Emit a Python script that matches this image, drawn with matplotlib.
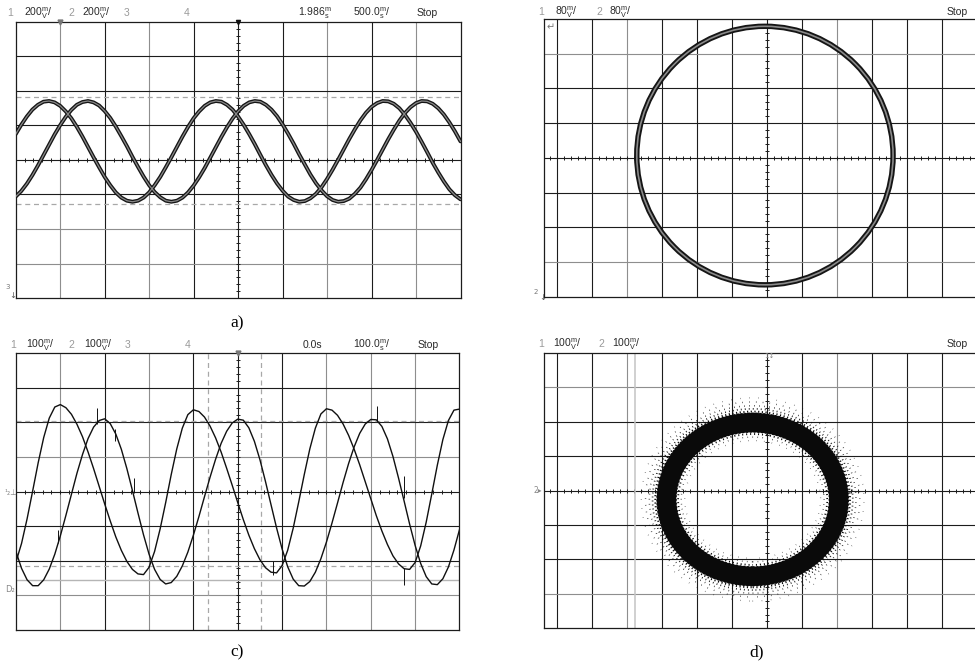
import numpy as np
import matplotlib.pyplot as plt
from matplotlib.patches import Ellipse

# ---- data read off the four scope screens (units = divisions, 0 at screen centre) ----
# time screens a) and c): one sample every 0.125 div across the 10 div
t_div = np.linspace(0, 10, 81)

a_ch1 = [0.75, 1.02, 1.26, 1.46, 1.60, 1.69, 1.71, 1.67, 1.57, 1.41,
         1.21, 0.96, 0.68, 0.38, 0.08, -0.21, -0.49, -0.73, -0.94, -1.09,
         -1.18, -1.21, -1.18, -1.09, -0.94, -0.73, -0.49, -0.21, 0.08, 0.38,
         0.68, 0.96, 1.21, 1.41, 1.57, 1.67, 1.71, 1.69, 1.60, 1.46,
         1.26, 1.02, 0.75, 0.46, 0.15, -0.15, -0.43, -0.68, -0.89, -1.06,
         -1.16, -1.21, -1.19, -1.11, -0.98, -0.79, -0.55, -0.28, 0.01, 0.31,
         0.61, 0.89, 1.15, 1.37, 1.54, 1.65, 1.71, 1.70, 1.63, 1.50,
         1.31, 1.08, 0.82, 0.53, 0.23, -0.08, -0.36, -0.62, -0.85, -1.02,
         -1.14]
a_ch2 = [-1.06, -0.90, -0.69, -0.44, -0.16, 0.14, 0.44, 0.74, 1.01, 1.25,
         1.45, 1.60, 1.68, 1.71, 1.67, 1.58, 1.42, 1.22, 0.97, 0.69,
         0.40, 0.09, -0.20, -0.48, -0.73, -0.93, -1.08, -1.18, -1.21, -1.18,
         -1.09, -0.94, -0.74, -0.50, -0.23, 0.07, 0.37, 0.67, 0.95, 1.20,
         1.41, 1.57, 1.67, 1.71, 1.69, 1.60, 1.46, 1.27, 1.03, 0.76,
         0.47, 0.16, -0.13, -0.42, -0.67, -0.88, -1.05, -1.16, -1.21, -1.19,
         -1.12, -0.98, -0.80, -0.56, -0.29, 0.00, 0.30, 0.60, 0.88, 1.14,
         1.36, 1.53, 1.65, 1.71, 1.70, 1.63, 1.50, 1.32, 1.09, 0.83,
         0.54]
a_cursor_y = [1.83, -1.28]

c_ch1 = [-2.03, -1.50, -0.79, 0.01, 0.83, 1.56, 2.12, 2.44, 2.51, 2.42,
         2.23, 1.94, 1.58, 1.14, 0.66, 0.15, -0.36, -0.85, -1.31, -1.70,
         -2.02, -2.25, -2.38, -2.40, -2.19, -1.73, -1.08, -0.32, 0.49, 1.23,
         1.83, 2.22, 2.36, 2.31, 2.15, 1.89, 1.55, 1.14, 0.67, 0.18,
         -0.32, -0.81, -1.26, -1.65, -1.97, -2.20, -2.33, -2.35, -2.14, -1.70,
         -1.06, -0.30, 0.49, 1.23, 1.83, 2.24, 2.39, 2.35, 2.20, 1.95,
         1.62, 1.22, 0.77, 0.28, -0.21, -0.70, -1.14, -1.53, -1.86, -2.09,
         -2.23, -2.25, -2.05, -1.57, -0.88, -0.07, 0.76, 1.50, 2.05, 2.35,
         2.38]
c_ch2 = [-1.74, -2.22, -2.55, -2.72, -2.72, -2.55, -2.24, -1.81, -1.28, -0.69,
         -0.08, 0.53, 1.07, 1.53, 1.86, 2.05, 2.10, 1.96, 1.66, 1.22,
         0.66, 0.03, -0.62, -1.25, -1.81, -2.25, -2.54, -2.67, -2.63, -2.45,
         -2.15, -1.75, -1.26, -0.72, -0.15, 0.41, 0.93, 1.39, 1.74, 1.98,
         2.09, 2.06, 1.84, 1.45, 0.92, 0.29, -0.38, -1.05, -1.66, -2.17,
         -2.53, -2.72, -2.73, -2.60, -2.33, -1.94, -1.46, -0.91, -0.33, 0.26,
         0.81, 1.29, 1.68, 1.95, 2.08, 2.07, 1.88, 1.52, 1.01, 0.39,
         -0.27, -0.94, -1.56, -2.08, -2.46, -2.67, -2.69, -2.52, -2.18, -1.69,
         -1.10]
c_cursor_y = [2.05, -2.15]
c_cursor_x = [4.34, 5.52]
c_marker_y = -2.55
# noise spikes on the traces of c)
c_glitch_x = [0.95, 1.82, 2.23, 2.65, 5.80, 8.14, 8.74, 8.74]
c_glitch_lo = [-1.50, 1.95, 1.45, -0.05, -2.40, 2.05, -0.20, -2.70]
c_glitch_hi = [-1.10, 2.40, 1.80, 0.40, -2.02, 2.48, 0.45, -2.22]

# XY screens b) and d): centre offset and amplitude of the Lissajous figure
b_offset = (-0.07, 0.07)
b_amp = (3.66, 3.72)
d_offset = (-0.42, -0.26)
d_amp = (2.46, 2.23)
d_cursor_x = -3.78

# header texts
hdr_a = ['1', '200$\\mathregular{^m_V}$/', '2', '200$\\mathregular{^m_V}$/', '3', '4',
         '1.986$\\mathregular{^m_s}$', '500.0$\\mathregular{^m_s}$/', 'Stop']
hdr_b = ['1', '80$\\mathregular{^m_V}$/', '2', '80$\\mathregular{^m_V}$/', 'Stop']
hdr_c = ['1', '100$\\mathregular{^m_V}$/', '2', '100$\\mathregular{^m_V}$/', '3', '4',
         '0.0s', '100.0$\\mathregular{^m_s}$/', 'Stop']
hdr_d = ['1', '100$\\mathregular{^m_V}$/', '2', '100$\\mathregular{^m_V}$/', 'Stop']

W, H = 975, 663
DARK = '#1c1c1c'
GREY = '#8e8e8e'
SCOPE_FONT = ['Liberation Sans Narrow', 'Liberation Sans', 'DejaVu Sans']

fig = plt.figure(figsize=(W / 100, H / 100), dpi=100)
fig.patch.set_facecolor('white')


def screen(box, xlim, cx, vgrey, hgrey, right_spine=True):
    x0, y0, x1, y1 = box
    ax = fig.add_axes([x0 / W, 1 - y1 / H, (x1 - x0) / W, (y1 - y0) / H])
    ax.set_xlim(xlim)
    ax.set_ylim(-4, 4)
    ax.set_xticks([])
    ax.set_yticks([])
    for s in ax.spines.values():
        s.set_color(DARK)
        s.set_linewidth(0.9)
    ax.spines['right'].set_visible(right_spine)
    for gx in range(int(np.ceil(xlim[0])), int(np.floor(xlim[1])) + 1):
        if xlim[0] < gx < xlim[1]:
            ax.axvline(gx, color=GREY if gx in vgrey else DARK, lw=0.8, zorder=1)
    for gy in range(-3, 4):
        ax.axhline(gy, color=GREY if gy in hgrey else DARK, lw=0.8, zorder=1)
    # small ticks on the centre lines
    tx = np.arange(np.ceil(xlim[0] * 5), np.floor(xlim[1] * 5) + 1) / 5
    ax.plot(tx, np.zeros_like(tx), ls='none', marker='|', ms=3.5, mew=0.7,
            color=DARK, zorder=1)
    ty = np.arange(-19, 20) / 5
    ax.plot(np.full_like(ty, cx), ty, ls='none', marker='_', ms=3.5, mew=0.7,
            color=DARK, zorder=1)
    return ax


def header(y, xs, labels):
    for x, s in zip(xs, labels):
        col = '#9a9a9a' if s in ('1', '2', '3', '4') else '#2a2a2a'
        fig.text(x / W, 1 - y / H, s, fontsize=7.5, color=col, family=SCOPE_FONT,
                 ha='left', va='center')


def caption(x, y, s):
    fig.text(x / W, 1 - y / H, s, fontsize=12.5, family=['Liberation Serif', 'DejaVu Serif'],
             ha='center', va='center')


# a) two sine channels
ax_a = screen((15.7, 22, 460.5, 298), (0, 10), 5, {1, 3, 7, 9}, {-2, -3})
for yv in a_cursor_y:
    ax_a.axhline(yv, color='#a8a8a8', lw=0.9, dashes=(4, 3), zorder=2)
for ch in (a_ch1, a_ch2):
    ax_a.plot(t_div, ch, color='#151515', lw=2.8, zorder=3, solid_capstyle='round')
    ax_a.plot(t_div, ch, color='#8a8a8a', lw=0.9, zorder=4)
ax_a.plot([1], [4], marker='v', ms=3.5, color='#777777', clip_on=False, zorder=5)
ax_a.plot([5], [4], marker='v', ms=3, color='#111111', clip_on=False, zorder=5)
header(13, [7, 24, 68, 82, 124, 184, 298, 353, 417], hdr_a)
fig.text(5 / W, 1 - 289 / H, '3', fontsize=5, color='#777777')
fig.text(9 / W, 1 - 298 / H, '\u2193', fontsize=6, color='#555555')
caption(237, 323, 'a)')

# b) XY circle
ax_b = screen((544, 19, 975, 297), (-6.38, 5.93), 0, {-4, 2}, {3, -3}, right_spine=False)
for lw, col, z in ((3.9, '#151515', 3), (1.2, '#8a8a8a', 4)):
    ax_b.add_patch(Ellipse(b_offset, 2 * b_amp[0], 2 * b_amp[1], fill=False,
                           lw=lw, color=col, zorder=z))
header(12, [538, 555, 596, 609, 947], hdr_b)
fig.text(547 / W, 1 - 30 / H, '\u21b5', fontsize=7, color='#777777')
fig.text(534 / W, 1 - 294 / H, '2', fontsize=5, color='#777777')
fig.text(539 / W, 1 - 300 / H, '\u2193', fontsize=6, color='#555555')

# c) noisy two channel measurement
ax_c = screen((16, 353, 459.5, 630), (0, 10), 5, {1, 3, 7, 8, 9}, {1, -3})
for yv in c_cursor_y:
    ax_c.axhline(yv, color='#a8a8a8', lw=0.9, dashes=(4, 3), zorder=2)
for xv in c_cursor_x:
    ax_c.axvline(xv, color='#a8a8a8', lw=0.9, dashes=(4, 3), zorder=2)
ax_c.axhline(c_marker_y, color='#b5b5b5', lw=1.0, zorder=2)
for ch in (c_ch1, c_ch2):
    ax_c.plot(t_div, ch, color='#101010', lw=1.0, zorder=3)
ax_c.vlines(c_glitch_x, c_glitch_lo, c_glitch_hi, color='#101010', lw=0.7, zorder=3)
ax_c.plot([5], [4], marker='v', ms=3.5, color='#777777', clip_on=False, zorder=5)
header(345, [10, 26, 68, 84, 125, 185, 303, 353, 418], hdr_c)
fig.text(4 / W, 1 - 495 / H, '\u00b9\u2082\u22a5', fontsize=5.5, color='#888888')
fig.text(5 / W, 1 - 592 / H, 'D\u2082', fontsize=6, color='#888888')
caption(237, 652, 'c)')

# d) noisy XY ring: dense band plus speckled edges
ax_d = screen((544, 352.7, 975, 628.3), (-6.38, 5.93), 0, {-4, 2}, {3, -3}, right_spine=False)
ax_d.axvline(d_cursor_x, color='#c4c4c4', lw=1.1, zorder=2)
ax_d.add_patch(Ellipse(d_offset, 2 * d_amp[0], 2 * d_amp[1], fill=False,
                       lw=14, color='#0a0a0a', zorder=3))
for grow, pat, lw in ((0.26, (0, (0.9, 0.8)), 1.6), (0.32, (0, (0.6, 1.3)), 1.4),
                      (0.40, (0.7, (0.5, 1.9)), 1.2), (0.49, (0, (0.4, 2.9)), 1.1),
                      (0.60, (1.5, (0.4, 4.5)), 1.0), (0.72, (0, (0.3, 7.0)), 0.9),
                      (-0.26, (0, (0.9, 0.9)), 1.5), (-0.33, (0.4, (0.6, 1.6)), 1.3),
                      (-0.42, (0, (0.4, 3.2)), 1.0), (-0.52, (1.0, (0.3, 6.0)), 0.9)):
    ax_d.add_patch(Ellipse(d_offset, 2 * (d_amp[0] + grow), 2 * (d_amp[1] + grow),
                           fill=False, lw=lw, ls=pat, color='#0a0a0a', zorder=3))
header(344, [538, 553, 598, 612, 947], hdr_d)
fig.text(764 / W, 1 - 358 / H, '1\u2195', fontsize=5, color='#888888')
fig.text(533 / W, 1 - 493 / H, '2\u25b8', fontsize=5.5, color='#888888')
caption(757, 652, 'd)')

fig.savefig('out.png', dpi=100, facecolor='white')
